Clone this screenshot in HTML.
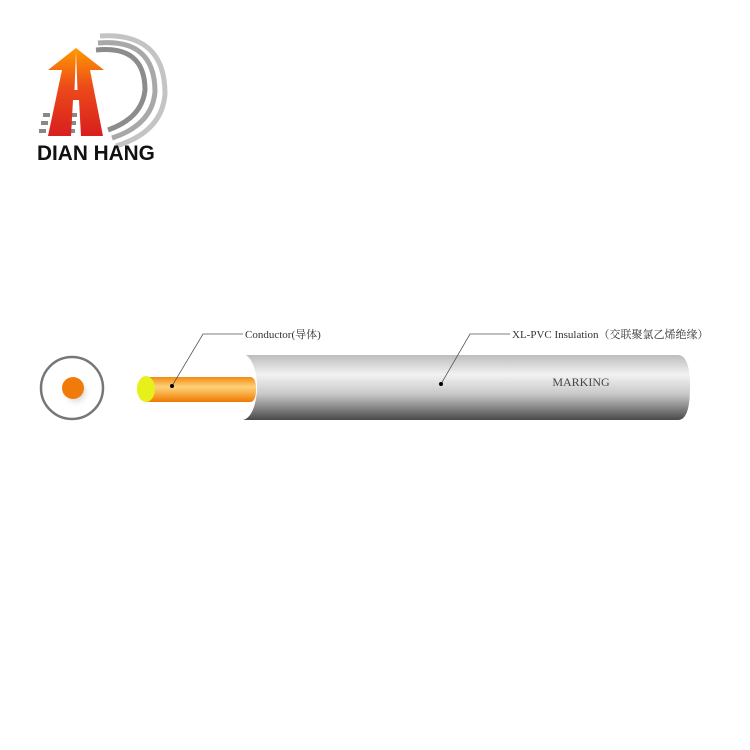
<!DOCTYPE html>
<html><head><style>body{margin:0;background:#fff}svg{display:block}</style></head><body>
<svg width="750" height="750" viewBox="0 0 750 750" xmlns="http://www.w3.org/2000/svg">
<defs>
<linearGradient id="lg" x1="0" y1="0" x2="0" y2="1"><stop offset="0" stop-color="#ff9a00"/><stop offset=".45" stop-color="#ec4a1a"/><stop offset="1" stop-color="#d81e1e"/></linearGradient>
<linearGradient id="gr" x1="0" y1="0" x2="0" y2="1"><stop offset="0" stop-color="#bdbdbd"/><stop offset=".3" stop-color="#f2f2f2"/><stop offset=".6" stop-color="#c9c9c9"/><stop offset="1" stop-color="#4a4a4a"/></linearGradient>
<linearGradient id="or" x1="0" y1="0" x2="0" y2="1"><stop offset="0" stop-color="#f28a10"/><stop offset=".4" stop-color="#ffd27a"/><stop offset="1" stop-color="#f07a00"/></linearGradient>
<radialGradient id="sh"><stop offset="0" stop-color="#999"/><stop offset="1" stop-color="#fff" stop-opacity="0"/></radialGradient>
</defs>
<!-- logo -->
<g fill="none" stroke-width="5">
<path d="M96 50 Q145 45 145 90 Q142 118 108 130" stroke="#8c8c8c"/>
<path d="M98 43 Q155 38 155 92 Q152 125 112 138" stroke="#a8a8a8"/>
<path d="M100 36 Q165 32 165 94 Q162 132 116 146" stroke="#c4c4c4"/>
</g>
<g fill="#888"><rect x="43" y="113" width="7" height="4"/><rect x="41" y="121" width="7" height="4"/><rect x="39" y="129" width="7" height="4"/><rect x="72" y="113" width="5" height="4"/><rect x="71" y="121" width="5" height="4"/><rect x="70" y="129" width="5" height="4"/></g>
<path d="M76 48 L104 70 L90 70 L103 136 L81 136 L79 100 L73 100 L71 136 L48 136 L62 70 L48 70 Z" fill="url(#lg)"/>
<path d="M76 51 L77.5 90 L74.5 90 Z" fill="#fff"/>
<text x="37" y="160" font-family="Liberation Sans,sans-serif" font-weight="bold" font-size="20.8" fill="#111">DIAN HANG</text>
<!-- cross section -->
<circle cx="72" cy="388" r="31" fill="#fff" stroke="#777" stroke-width="2.5"/>
<circle cx="76" cy="392" r="16" fill="url(#sh)"/>
<circle cx="73" cy="388" r="11" fill="#f07a0a"/>
<!-- cable -->
<path d="M242 355 L678 355 Q690 355 690 387 Q690 420 678 420 L242 420 Z" fill="url(#gr)"/>
<ellipse cx="242" cy="387" rx="15" ry="33" fill="#fff"/>
<path d="M146 377 L250 377 Q256 377 256 389 Q256 402 250 402 L146 402 Z" fill="url(#or)"/>
<ellipse cx="146" cy="389" rx="9" ry="13" fill="#e6f01a"/>
<text x="581" y="386" text-anchor="middle" font-family="Liberation Serif,serif" font-size="12" fill="#444">MARKING</text>
<!-- leaders -->
<g stroke="#555" stroke-width="0.8" fill="none"><path d="M172 386 L203 334 L243 334"/><path d="M441 384 L470 334 L510 334"/></g>
<circle cx="172" cy="386" r="2" fill="#000"/><circle cx="441" cy="384" r="2" fill="#000"/>
<text x="245" y="338" font-family="Liberation Serif,'Noto Serif CJK SC',serif" font-size="11" fill="#333">Conductor(导体)</text>
<text x="512" y="338" font-family="Liberation Serif,'Noto Serif CJK SC',serif" font-size="11" fill="#333">XL-PVC Insulation（交联聚氯乙烯绝缘）</text>
</svg>
</body></html>
